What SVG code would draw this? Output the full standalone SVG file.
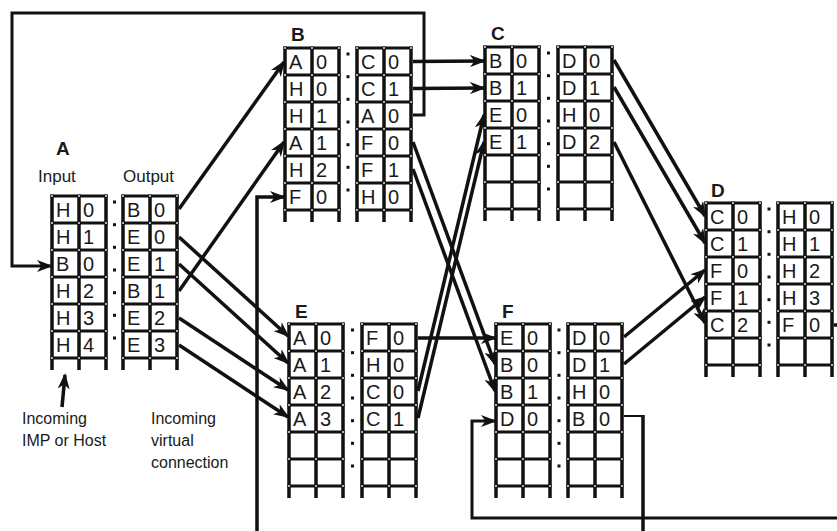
<svg xmlns="http://www.w3.org/2000/svg" xmlns:xlink="http://www.w3.org/1999/xlink" width="837" height="531" viewBox="0 0 837 531">
<style>
text{font-family:"Liberation Sans",Arial,sans-serif;fill:#1a1a1a}
.cell{font-size:20px}
.lbl{font-size:19px;font-weight:bold}
.cap{font-size:17px}
.note{font-size:16px}
.con{fill:none;stroke:#111;stroke-width:3.5;stroke-linejoin:miter}
.arr{marker-end:url(#ah)}
.kn{fill:#e8e8e8}
</style>
<defs>
<marker id="ah" markerUnits="userSpaceOnUse" markerWidth="16" markerHeight="12" viewBox="0 0 16 12" refX="14" refY="6" orient="auto">
<path d="M0,0 L16,6 L0,12 L4.5,6 Z" fill="#111"/>
</marker>
<g id="knots" class="kn">
<circle cx="0" cy="0" r="1"/><circle cx="27" cy="0" r="1"/><circle cx="54" cy="0" r="1"/>
</g>
<g id="half">
<rect x="0" y="0" width="54" height="162" fill="#fff"/>
<path d="M-1.5,0 H55.5 M-1.5,27 H55.5 M-1.5,54 H55.5 M-1.5,81 H55.5 M-1.5,108 H55.5 M-1.5,135 H55.5 M-1.5,162 H55.5" stroke="#111" stroke-width="3" fill="none"/>
<path d="M0,-1.5 V174 M27,-1.5 V174 M54,-1.5 V174" stroke="#111" stroke-width="3.5" fill="none"/>
<use xlink:href="#knots" y="0"/><use xlink:href="#knots" y="27"/><use xlink:href="#knots" y="54"/>
<use xlink:href="#knots" y="81"/><use xlink:href="#knots" y="108"/><use xlink:href="#knots" y="135"/>
<use xlink:href="#knots" y="162"/>
</g>
<g id="dots" fill="#111">
<rect x="-1.5" y="4.5" width="3" height="3"/>
<rect x="-1.5" y="27.2" width="3" height="3"/>
<rect x="-1.5" y="49.8" width="3" height="3"/>
<rect x="-1.5" y="72.5" width="3" height="3"/>
<rect x="-1.5" y="95.2" width="3" height="3"/>
<rect x="-1.5" y="117.8" width="3" height="3"/>
<rect x="-1.5" y="140.5" width="3" height="3"/>
</g>
</defs>
<rect width="837" height="531" fill="#fff"/>

<g id="connectors">
<path class="con arr" d="M179,209 L284,62"/>
<path class="con arr" d="M179,237 L288,336"/>
<path class="con arr" d="M179,264 L288,363"/>
<path class="con arr" d="M179,291 L284,142"/>
<path class="con arr" d="M179,318 L288,390"/>
<path class="con arr" d="M179,345 L288,417"/>
<path class="con arr" d="M413,61.5 L484,61"/>
<path class="con arr" d="M413,88.5 L484,88"/>
<path class="con arr" style="stroke-width:3" d="M413,115 H424 V13 H12 V266 H51"/>
<path class="con arr" d="M413,142 L495,364"/>
<path class="con arr" d="M413,169 L495,391"/>
<path class="con arr" d="M614,60 L705,216"/>
<path class="con arr" d="M614,87 L705,243"/>
<path class="con arr" d="M614,142 L705,323"/>
<path class="con arr" d="M418,338 L495,338"/>
<path class="con arr" d="M418,391 L484,115"/>
<path class="con arr" d="M418,418 L484,142"/>
<path class="con arr" d="M624,337 L705,270"/>
<path class="con arr" d="M624,364 L705,297"/>
<path class="con" style="stroke-width:2" d="M624,416 H643"/>
<path class="con" d="M643,415 V531"/>
<path class="con arr" d="M257,531 V197 H284"/>
<path class="con" d="M834,325 H837"/>
<path class="con arr" style="stroke-width:3" d="M837,518 H472 V421 H495"/>
<path class="con arr" d="M62,407 L65,375"/>
</g>

<g id="nodeA">
<text class="lbl" x="56" y="155">A</text>
<text class="cap" x="38" y="182">Input</text>
<text class="cap" x="123" y="182">Output</text>
<use xlink:href="#half" x="52" y="196"/>
<use xlink:href="#half" x="123" y="196"/>
<use xlink:href="#dots" x="114.5" y="196"/>
<g class="cell">
<text x="56" y="216.5">H</text><text x="83" y="216.5">0</text>
<text x="56" y="243.5">H</text><text x="83" y="243.5">1</text>
<text x="56" y="270.5">B</text><text x="83" y="270.5">0</text>
<text x="56" y="297.5">H</text><text x="83" y="297.5">2</text>
<text x="56" y="324.5">H</text><text x="83" y="324.5">3</text>
<text x="56" y="351.5">H</text><text x="83" y="351.5">4</text>
<text x="127" y="216.5">B</text><text x="154" y="216.5">0</text>
<text x="127" y="243.5">E</text><text x="154" y="243.5">0</text>
<text x="127" y="270.5">E</text><text x="154" y="270.5">1</text>
<text x="127" y="297.5">B</text><text x="154" y="297.5">1</text>
<text x="127" y="324.5">E</text><text x="154" y="324.5">2</text>
<text x="127" y="351.5">E</text><text x="154" y="351.5">3</text>
</g>
</g>

<g id="nodeB">
<text class="lbl" x="291" y="41">B</text>
<use xlink:href="#half" x="285" y="48"/>
<use xlink:href="#half" x="357" y="48"/>
<use xlink:href="#dots" x="348" y="48"/>
<g class="cell">
<text x="289" y="68.5">A</text><text x="316" y="68.5">0</text>
<text x="289" y="95.5">H</text><text x="316" y="95.5">0</text>
<text x="289" y="122.5">H</text><text x="316" y="122.5">1</text>
<text x="289" y="149.5">A</text><text x="316" y="149.5">1</text>
<text x="289" y="176.5">H</text><text x="316" y="176.5">2</text>
<text x="289" y="203.5">F</text><text x="316" y="203.5">0</text>
<text x="361" y="68.5">C</text><text x="388" y="68.5">0</text>
<text x="361" y="95.5">C</text><text x="388" y="95.5">1</text>
<text x="361" y="122.5">A</text><text x="388" y="122.5">0</text>
<text x="361" y="149.5">F</text><text x="388" y="149.5">0</text>
<text x="361" y="176.5">F</text><text x="388" y="176.5">1</text>
<text x="361" y="203.5">H</text><text x="388" y="203.5">0</text>
</g>
</g>

<g id="nodeC">
<text class="lbl" x="491" y="40">C</text>
<use xlink:href="#half" x="485" y="47"/>
<use xlink:href="#half" x="558" y="47"/>
<use xlink:href="#dots" x="548.5" y="47"/>
<g class="cell">
<text x="489" y="67.5">B</text><text x="516" y="67.5">0</text>
<text x="489" y="94.5">B</text><text x="516" y="94.5">1</text>
<text x="489" y="121.5">E</text><text x="516" y="121.5">0</text>
<text x="489" y="148.5">E</text><text x="516" y="148.5">1</text>
<text x="562" y="67.5">D</text><text x="589" y="67.5">0</text>
<text x="562" y="94.5">D</text><text x="589" y="94.5">1</text>
<text x="562" y="121.5">H</text><text x="589" y="121.5">0</text>
<text x="562" y="148.5">D</text><text x="589" y="148.5">2</text>
</g>
</g>

<g id="nodeD">
<text class="lbl" x="711" y="197">D</text>
<use xlink:href="#half" x="706" y="203"/>
<use xlink:href="#half" x="778" y="203"/>
<use xlink:href="#dots" x="769" y="203"/>
<g class="cell">
<text x="710" y="223.5">C</text><text x="737" y="223.5">0</text>
<text x="710" y="250.5">C</text><text x="737" y="250.5">1</text>
<text x="710" y="277.5">F</text><text x="737" y="277.5">0</text>
<text x="710" y="304.5">F</text><text x="737" y="304.5">1</text>
<text x="710" y="331.5">C</text><text x="737" y="331.5">2</text>
<text x="782" y="223.5">H</text><text x="809" y="223.5">0</text>
<text x="782" y="250.5">H</text><text x="809" y="250.5">1</text>
<text x="782" y="277.5">H</text><text x="809" y="277.5">2</text>
<text x="782" y="304.5">H</text><text x="809" y="304.5">3</text>
<text x="782" y="331.5">F</text><text x="809" y="331.5">0</text>
</g>
</g>

<g id="nodeE">
<text class="lbl" x="295" y="318">E</text>
<use xlink:href="#half" x="289" y="324"/>
<use xlink:href="#half" x="362" y="324"/>
<use xlink:href="#dots" x="352.5" y="324"/>
<g class="cell">
<text x="293" y="344.5">A</text><text x="320" y="344.5">0</text>
<text x="293" y="371.5">A</text><text x="320" y="371.5">1</text>
<text x="293" y="398.5">A</text><text x="320" y="398.5">2</text>
<text x="293" y="425.5">A</text><text x="320" y="425.5">3</text>
<text x="366" y="344.5">F</text><text x="393" y="344.5">0</text>
<text x="366" y="371.5">H</text><text x="393" y="371.5">0</text>
<text x="366" y="398.5">C</text><text x="393" y="398.5">0</text>
<text x="366" y="425.5">C</text><text x="393" y="425.5">1</text>
</g>
</g>

<g id="nodeF">
<text class="lbl" x="502" y="318">F</text>
<use xlink:href="#half" x="496" y="324"/>
<use xlink:href="#half" x="568" y="324"/>
<use xlink:href="#dots" x="559" y="324"/>
<g class="cell">
<text x="500" y="344.5">E</text><text x="527" y="344.5">0</text>
<text x="500" y="371.5">B</text><text x="527" y="371.5">0</text>
<text x="500" y="398.5">B</text><text x="527" y="398.5">1</text>
<text x="500" y="425.5">D</text><text x="527" y="425.5">0</text>
<text x="572" y="344.5">D</text><text x="599" y="344.5">0</text>
<text x="572" y="371.5">D</text><text x="599" y="371.5">1</text>
<text x="572" y="398.5">H</text><text x="599" y="398.5">0</text>
<text x="572" y="425.5">B</text><text x="599" y="425.5">0</text>
</g>
</g>

<g id="notes" class="note">
<text class="note" x="22" y="424">Incoming</text>
<text class="note" x="22" y="446">IMP or Host</text>
<text class="note" x="151" y="424">Incoming</text>
<text class="note" x="151" y="446">virtual</text>
<text class="note" x="151" y="468">connection</text>
</g>
</svg>
